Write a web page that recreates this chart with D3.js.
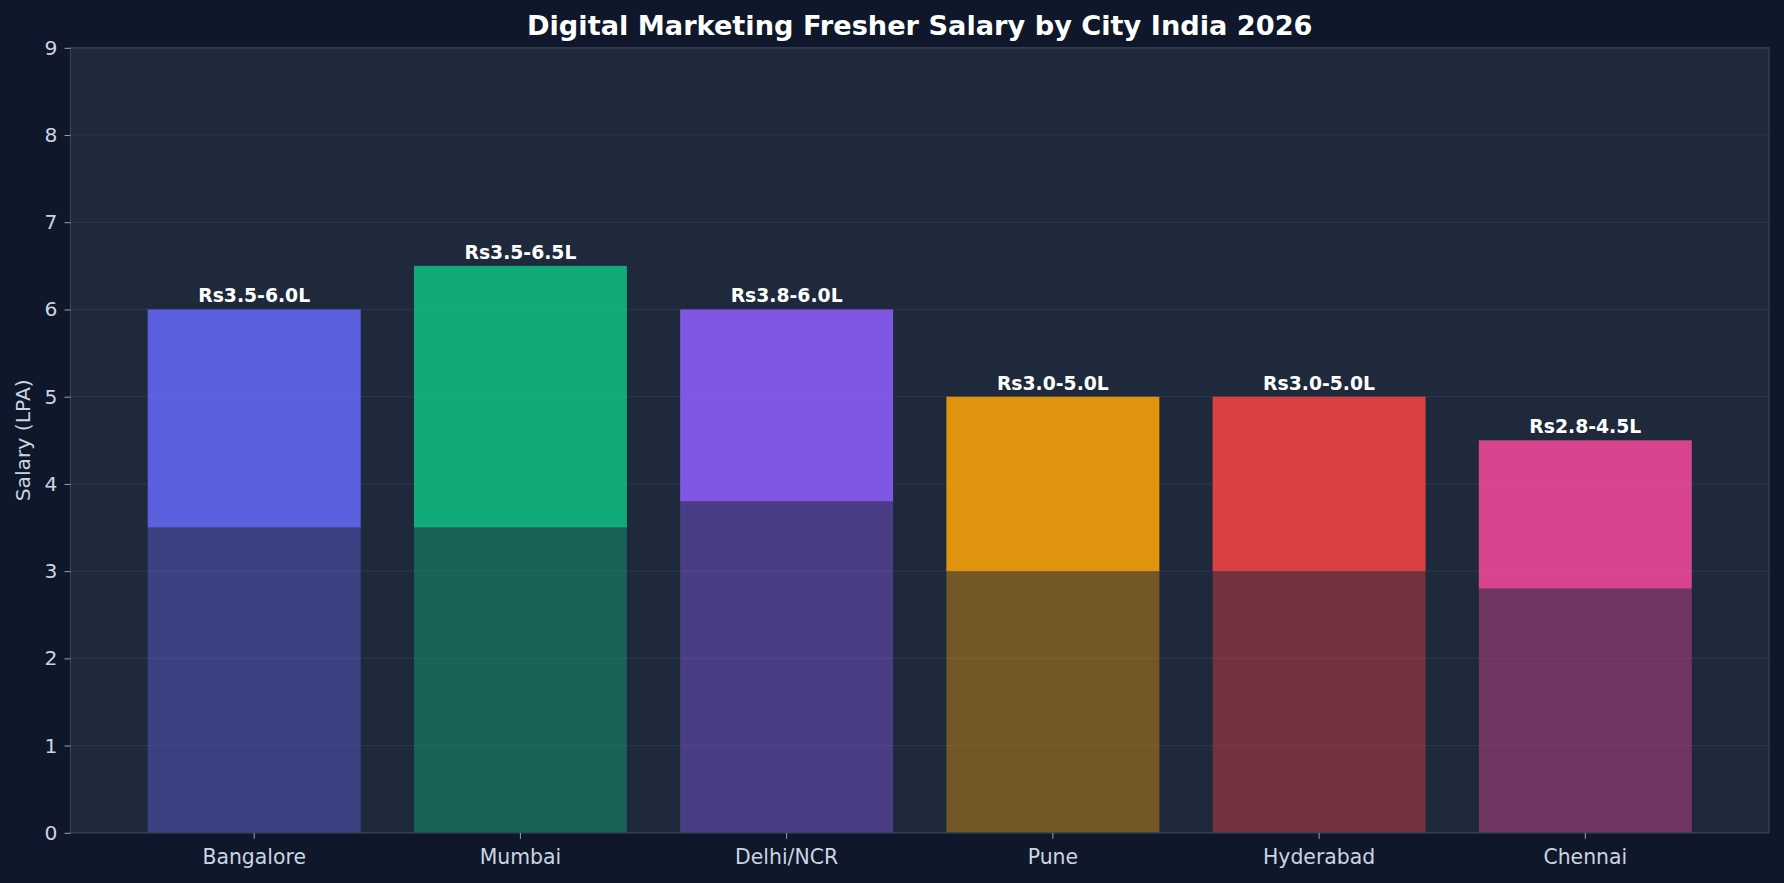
<!DOCTYPE html>
<html>
<head>
<meta charset="utf-8">
<script src="https://cdn.jsdelivr.net/npm/d3@7"></script>
<style>
  html, body { margin: 0; padding: 0; background: #0f172a; }
  svg { display: block; font-family: "DejaVu Sans", sans-serif; }
</style>
</head>
<body>
<svg id="chart" width="1784" height="883"></svg>
<script>
const cities = ["Bangalore", "Mumbai", "Delhi/NCR", "Pune", "Hyderabad", "Chennai"];
const minSalary = [3.5, 3.5, 3.8, 3.0, 3.0, 2.8];
const maxSalary = [6.0, 6.5, 6.0, 5.0, 5.0, 4.5];
const rangeLabels = ["Rs3.5-6.0L", "Rs3.5-6.5L", "Rs3.8-6.0L", "Rs3.0-5.0L", "Rs3.0-5.0L", "Rs2.8-4.5L"];
const barColors = ["#6366f1", "#10b981", "#8b5cf6", "#f59e0b", "#ef4444", "#ec4899"];
const yTicks = [0, 1, 2, 3, 4, 5, 6, 7, 8, 9];
const titleText = "Digital Marketing Fresher Salary by City India 2026";
const yLabelText = "Salary (LPA)";

const W = 1784, H = 883;
const plot = { left: 70.5, right: 1769, top: 47.8, bottom: 832.8 };

const svg = d3.select("#chart");
svg.append("rect").attr("width", W).attr("height", H).attr("fill", "#0f172a");

const x = d3.scaleBand().domain(cities).range([plot.left, plot.right])
  .paddingInner(0.2).paddingOuter(0.29);
const y = d3.scaleLinear().domain([0, 9]).range([plot.bottom, plot.top]);

// axes background
svg.append("rect")
  .attr("x", plot.left).attr("y", plot.top)
  .attr("width", plot.right - plot.left).attr("height", plot.bottom - plot.top)
  .attr("fill", "#1e293b");

// grid
svg.append("g").selectAll("line").data(yTicks).join("line")
  .attr("x1", plot.left).attr("x2", plot.right)
  .attr("y1", d => y(d)).attr("y2", d => y(d))
  .attr("stroke", "#334155").attr("stroke-opacity", 0.5).attr("stroke-width", 1.2);

const data = cities.map((c, i) => ({ city: c, lo: minSalary[i], hi: maxSalary[i], label: rangeLabels[i], color: barColors[i] }));

// lower (entry) bars
svg.append("g").selectAll("rect").data(data).join("rect")
  .attr("x", d => x(d.city)).attr("width", x.bandwidth())
  .attr("y", d => y(d.lo)).attr("height", d => y(0) - y(d.lo))
  .attr("fill", d => d.color).attr("fill-opacity", 0.4);

// upper range bars
svg.append("g").selectAll("rect").data(data).join("rect")
  .attr("x", d => x(d.city)).attr("width", x.bandwidth())
  .attr("y", d => y(d.hi)).attr("height", d => y(d.lo) - y(d.hi))
  .attr("fill", d => d.color).attr("fill-opacity", 0.9);

// value labels
svg.append("g").selectAll("text").data(data).join("text")
  .attr("x", d => x(d.city) + x.bandwidth() / 2)
  .attr("y", d => y(d.hi) - 7)
  .attr("text-anchor", "middle")
  .attr("fill", "#ffffff").attr("font-weight", "bold").attr("font-size", "18.8px")
  .text(d => d.label);

// spines
const spine = svg.append("g").attr("stroke", "#334155").attr("stroke-width", 1.3).attr("fill", "none");
spine.append("rect").attr("x", plot.left).attr("y", plot.top)
  .attr("width", plot.right - plot.left).attr("height", plot.bottom - plot.top);

// y axis
const yAxis = svg.append("g").attr("transform", `translate(${plot.left},0)`)
  .call(d3.axisLeft(y).tickValues(yTicks).tickFormat(d3.format("d")).tickSize(6).tickPadding(7));
yAxis.select(".domain").remove();
yAxis.selectAll(".tick line").attr("stroke", "#94a3b8");
yAxis.selectAll(".tick text").attr("fill", "#cbd5e1").attr("font-size", "20.3px")
  .attr("font-family", "DejaVu Sans");

// x axis
const xAxis = svg.append("g").attr("transform", `translate(0,${plot.bottom})`)
  .call(d3.axisBottom(x).tickSize(6).tickPadding(11));
xAxis.select(".domain").remove();
xAxis.selectAll(".tick line").attr("stroke", "#94a3b8");
xAxis.selectAll(".tick text").attr("fill", "#cbd5e1").attr("font-size", "20.4px")
  .attr("font-family", "DejaVu Sans");

// y label
svg.append("text")
  .attr("transform", `translate(30,${(plot.top + plot.bottom) / 2}) rotate(-90)`)
  .attr("text-anchor", "middle")
  .attr("fill", "#cbd5e1").attr("font-size", "20.3px")
  .text(yLabelText);

// title
svg.append("text")
  .attr("x", (plot.left + plot.right) / 2).attr("y", 35)
  .attr("text-anchor", "middle")
  .attr("fill", "#ffffff").attr("font-weight", "bold").attr("font-size", "27.2px")
  .text(titleText);
</script>
</body>
</html>
